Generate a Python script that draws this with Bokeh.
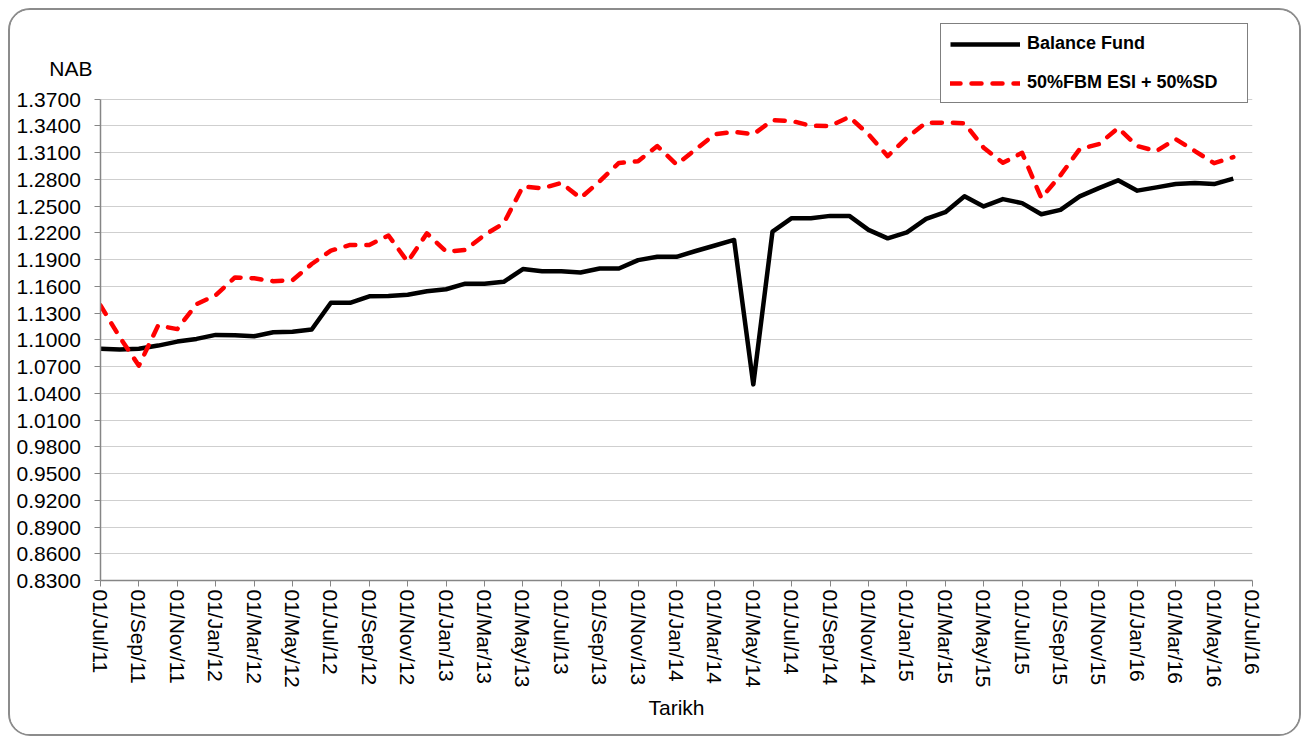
import math
from bokeh.plotting import figure
from bokeh.models import (Range1d, FixedTicker, Legend, LegendItem)
from bokeh.embed import file_html
from bokeh.resources import INLINE

# ---------------- data ----------------
tick_labels = ["01/Jul/11", "01/Sep/11", "01/Nov/11", "01/Jan/12", "01/Mar/12", "01/May/12",
               "01/Jul/12", "01/Sep/12", "01/Nov/12", "01/Jan/13", "01/Mar/13", "01/May/13",
               "01/Jul/13", "01/Sep/13", "01/Nov/13", "01/Jan/14", "01/Mar/14", "01/May/14",
               "01/Jul/14", "01/Sep/14", "01/Nov/14", "01/Jan/15", "01/Mar/15", "01/May/15",
               "01/Jul/15", "01/Sep/15", "01/Nov/15", "01/Jan/16", "01/Mar/16", "01/May/16",
               "01/Jul/16"]
tick_positions = [0, 2, 4, 6, 8, 10, 12, 14, 16, 18, 20, 22, 24, 26, 28, 30, 32, 34, 36,
                  38, 40, 42, 44, 46, 48, 50, 52, 54, 56, 58, 60]
y_ticks = [0.83, 0.86, 0.89, 0.92, 0.95, 0.98, 1.01, 1.04, 1.07, 1.10, 1.13, 1.16, 1.19,
           1.22, 1.25, 1.28, 1.31, 1.34, 1.37]

# month index (0 = Jul 2011 ... 59 = Jun 2016)
months = list(range(60))

balance_fund = [1.0900, 1.0890, 1.0900, 1.0935, 1.0980, 1.1010, 1.1055, 1.1052, 1.1040, 1.1085,
                1.1090, 1.1115, 1.1415, 1.1415, 1.1488, 1.1490, 1.1506, 1.1544, 1.1567, 1.1630,
                1.1630, 1.1650, 1.1793, 1.1770, 1.1770, 1.1755, 1.1800, 1.1800, 1.1894, 1.1931,
                1.1931, 1.1996, 1.2058, 1.2120, 1.0500, 1.2214, 1.2364, 1.2364, 1.2390, 1.2390,
                1.2233, 1.2138, 1.2206, 1.2357, 1.2432, 1.2609, 1.2496, 1.2578, 1.2533, 1.2409,
                1.2458, 1.2609, 1.2702, 1.2789, 1.2673, 1.2710, 1.2747, 1.2759, 1.2747, 1.2808]

benchmark = [1.1386, 1.1030, 1.0710, 1.1160, 1.1120, 1.1400, 1.1500, 1.1700, 1.1690, 1.1657,
             1.1668, 1.1850, 1.2000, 1.2064, 1.2064, 1.2170, 1.1875, 1.2194, 1.1990, 1.2007,
             1.2176, 1.2307, 1.2720, 1.2700, 1.2759, 1.2590, 1.2778, 1.2984, 1.3004, 1.3173,
             1.2966, 1.3136, 1.3305, 1.3334, 1.3305, 1.3463, 1.3455, 1.3400, 1.3399, 1.3500,
             1.3305, 1.3060, 1.3267, 1.3436, 1.3436, 1.3430, 1.3154, 1.2985, 1.3097, 1.2590,
             1.2846, 1.3140, 1.3195, 1.3376, 1.3173, 1.3117, 1.3252, 1.3117, 1.2981, 1.3050]

series_names = ["Balance Fund", "50%FBM ESI + 50%SD"]
y_axis_title = "NAB"
x_axis_title = "Tarikh"

FONT = "Liberation Sans"

# layout constants (the plotting frame is extended upward so that the legend,
# which sits above the 1.37 line, lies inside it)
Y_MIN, Y_MAX_TICK, Y_TOP = 0.83, 1.37, 1.4649
NAB_POS_Y = 1.404          # where the "NAB" title sits, above the top tick
NBSP = "\u00a0"

p = figure(width=1293, height=728, output_backend="svg", toolbar_location=None,
           x_range=Range1d(0, 60), y_range=Range1d(Y_MIN, Y_TOP),
           min_border_left=90, min_border_right=51, min_border_top=4, min_border_bottom=158)
p.styles = {"border": "2px solid #8c8c8c", "border-radius": "22px", "overflow": "hidden",
            "margin-left": "8px", "margin-top": "8px", "box-sizing": "border-box"}
p.outline_line_color = None
p.background_fill_color = "white"
p.border_fill_color = "white"

r1 = p.line(months, balance_fund, line_color="black", line_width=4.5, line_join="round")
r2 = p.line(months, benchmark, line_color="#ff0000", line_width=4.5, line_dash="10 11",
            line_cap="round", line_join="round")

# x axis
xa = p.xaxis[0]
xa.ticker = FixedTicker(ticks=tick_positions)
xa.major_label_overrides = {t: l for t, l in zip(tick_positions, tick_labels)}
xa.major_label_orientation = -math.pi / 2
xa.major_label_text_font = FONT
xa.major_label_text_font_size = "21px"
xa.major_label_text_color = "black"
xa.major_label_standoff = 3
xa.axis_line_color = "#868686"
xa.axis_line_width = 1.5
xa.major_tick_line_color = "#868686"
xa.major_tick_out = 6
xa.major_tick_in = 0
xa.minor_tick_line_color = None
xa.axis_label = x_axis_title
xa.axis_label_text_font = FONT
xa.axis_label_text_font_size = "21px"
xa.axis_label_text_font_style = "normal"
xa.axis_label_text_color = "black"
xa.axis_label_standoff = 5

# y axis: line limited to the value range; visible tick marks are drawn as
# minor ticks so that the extra "NAB" label above the top has no tick mark.
# Numeric labels carry trailing no-break spaces so they end left of the ticks
# while "NAB" reaches almost to the axis line, as in the original.
ya = p.yaxis[0]
ya.ticker = FixedTicker(ticks=y_ticks + [NAB_POS_Y], minor_ticks=y_ticks)
ya.bounds = (Y_MIN, Y_MAX_TICK)
overrides = {v: f"{v:.4f}" + NBSP * 2 for v in y_ticks}
overrides[NAB_POS_Y] = y_axis_title
ya.major_label_overrides = overrides
ya.major_label_text_font = FONT
ya.major_label_text_font_size = "21px"
ya.major_label_text_color = "black"
ya.major_label_standoff = 2
ya.axis_line_color = "#868686"
ya.axis_line_width = 1.5
ya.major_tick_line_color = None
ya.major_tick_out = 0
ya.major_tick_in = 0
ya.minor_tick_line_color = "#868686"
ya.minor_tick_line_width = 1
ya.minor_tick_out = 6
ya.minor_tick_in = 0

p.xgrid.grid_line_color = None
p.ygrid.ticker = FixedTicker(ticks=y_ticks)
p.ygrid.grid_line_color = "#cfcfcf"
p.ygrid.grid_line_width = 1.2

legend = Legend(items=[LegendItem(label=series_names[0], renderers=[r1]),
                       LegendItem(label=series_names[1], renderers=[r2])],
                location=(840, 477))
legend.label_text_font = FONT
legend.label_text_font_size = "18px"
legend.label_text_font_style = "bold"
legend.label_text_color = "black"
legend.glyph_width = 70
legend.glyph_height = 20
legend.label_height = 20
legend.label_width = 211
legend.label_standoff = 7
legend.spacing = 18
legend.padding = 9
legend.margin = 0
legend.border_line_color = "black"
legend.border_line_width = 1
legend.background_fill_alpha = 1
p.add_layout(legend, "center")

open("out.html", "w").write(file_html(p, INLINE))
